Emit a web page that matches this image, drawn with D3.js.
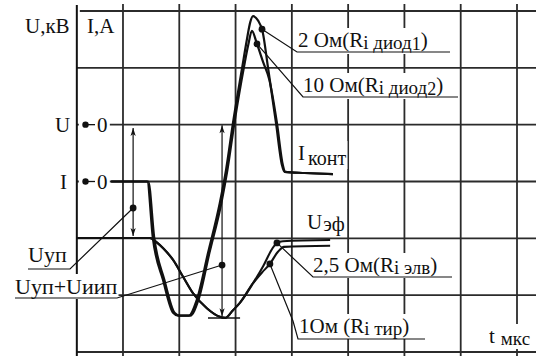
<!DOCTYPE html>
<html>
<head>
<meta charset="utf-8">
<script src="https://cdn.jsdelivr.net/npm/d3@7/dist/d3.min.js"></script>
<style>
body { margin: 0; background: #fff; }
svg { display: block; }
</style>
</head>
<body>
<div id="chart"></div>
<script>
var W = 536, H = 356;

// grid divisions: time (µs) and voltage divisions
var tGrid = [1, 2, 3, 4, 5, 6, 7, 8];
var uGrid = [2, 1, 0, -1, -2, -3, -4];
var axisT = 0.18;

// contact current, [t, I] (I in divisions)
var iDiode1 = [[0.79,0],[1.43,0],[1.53,-0.99],[1.71,-1.73],[1.89,-2.31],[1.98,-2.36],[2.17,-2.36],[2.31,-2.085],
	[2.51,-1.26],[2.72,-0.378],[2.83,0.2],[2.954,1.03],[3.12,2.02],[3.20,2.49],[3.26,2.8],[3.31,2.91],[3.36,2.88],
	[3.40,2.83],[3.48,2.64],[3.575,2.015],[3.718,1.03],[3.824,0.29],[3.87,0.17],[4.23,0.15],[4.73,0.13]];
var iDiode2 = [[0.79,0],[1.45,0],[1.555,-0.99],[1.735,-1.73],[1.915,-2.31],[2.0,-2.36],[2.195,-2.36],[2.34,-2.085],
	[2.535,-1.26],[2.748,-0.378],[2.855,0.2],[2.979,1.03],[3.15,2.02],[3.225,2.4],[3.29,2.65],[3.38,2.42],
	[3.49,2.1],[3.60,1.79],[3.735,1.03],[3.84,0.29],[3.88,0.17],[4.23,0.15],[4.73,0.13]];

// voltage, [t, U] (U in divisions)
var uCommon = [[0.18,-1.994],[1.48,-1.994],[1.60,-2.07],[1.71,-2.17],[1.89,-2.38],[2.07,-2.68],[2.24,-2.96],
	[2.49,-3.23],[2.72,-3.38],[2.82,-3.40],[2.95,-3.27],[3.08,-3.13],[3.31,-2.79]];
var uElv = [[3.49,-2.49],[3.66,-2.17],[3.735,-2.08],[3.84,-2.05],[4.68,-2.03]];
var uTir = [[3.47,-2.60],[3.61,-2.45],[3.75,-2.24],[3.86,-2.15],[4.68,-2.13]];

// marked points
var dotsI = [[3.47, 2.68], [3.38, 2.42]];
var dotsU = [[3.735, -2.08], [3.61, -2.45], [1.18, -1.466], [2.76, -2.47]];

// measuring arrows [t, Utop, Ubottom]
var arrows = [[1.18, -0.06, -1.96], [2.76, -0.01, -3.37]];
var uMin = [2.51, 3.08, -3.40];

var x = d3.scaleLinear().domain([0, 8]).range([66.7, 517]);
var yU = d3.scaleLinear().domain([-4, 2]).range([352, 11]);
var yI = d3.scaleLinear().domain([-3, 3]).range([352, 11]);

var ink = "#111";
var gridColor = "#2b2b2b";
var serif = "'Liberation Serif', 'DejaVu Serif', 'Times New Roman', serif";

var svg = d3.select("#chart").append("svg")
	.attr("width", W)
	.attr("height", H);

svg.append("rect").attr("width", W).attr("height", H).attr("fill", "#fff");

var gGrid = svg.append("g");
var gBg = svg.append("g");
var gLines = svg.append("g");
var gText = svg.append("g")
	.attr("font-family", serif)
	.attr("fill", ink)
	.style("white-space", "pre");

// grid
gGrid.selectAll("line.v")
	.data(tGrid)
	.enter()
	.append("line")
	.attr("x1", d => x(d))
	.attr("x2", d => x(d))
	.attr("y1", 4)
	.attr("y2", H)
	.attr("stroke", gridColor)
	.attr("stroke-width", 1.8);

gGrid.selectAll("line.h")
	.data(uGrid)
	.enter()
	.append("line")
	.attr("x1", (d, i) => i === 0 ? x(axisT) + 3 : x(axisT))
	.attr("x2", W)
	.attr("y1", d => yU(d))
	.attr("y2", d => yU(d))
	.attr("stroke", gridColor)
	.attr("stroke-width", 1.8);

gGrid.append("line")
	.attr("x1", x(axisT))
	.attr("x2", x(axisT))
	.attr("y1", 5)
	.attr("y2", H)
	.attr("stroke", ink)
	.attr("stroke-width", 2);

// curves
var lineI = d3.line().x(d => x(d[0])).y(d => yI(d[1])).curve(d3.curveMonotoneX);
var lineU = d3.line().x(d => x(d[0])).y(d => yU(d[1])).curve(d3.curveMonotoneX);

gLines.append("path").attr("d", lineU(uCommon.concat(uElv)))
	.attr("fill", "none").attr("stroke", ink).attr("stroke-width", 2.1);
gLines.append("path").attr("d", lineU(uCommon.concat(uTir)))
	.attr("fill", "none").attr("stroke", ink).attr("stroke-width", 2.1);
gLines.append("path").attr("d", lineI(iDiode1))
	.attr("fill", "none").attr("stroke", ink).attr("stroke-width", 2.2);
gLines.append("path").attr("d", lineI(iDiode2))
	.attr("fill", "none").attr("stroke", ink).attr("stroke-width", 2.2);

// arrows
function arrowHead(px, py, dir) {
	gLines.append("path")
		.attr("d", "M" + px + "," + py + " l-2.6," + (8 * dir) + " l2.6," + (-2 * dir) + " l2.6," + (2 * dir) + "z")
		.attr("fill", ink);
}
arrows.forEach(function(a) {
	gLines.append("line")
		.attr("x1", x(a[0])).attr("x2", x(a[0]))
		.attr("y1", yU(a[1])).attr("y2", yU(a[2]))
		.attr("stroke", ink).attr("stroke-width", 1.2);
	arrowHead(x(a[0]), yU(a[1]), 1);
	arrowHead(x(a[0]), yU(a[2]), -1);
});
gLines.append("line")
	.attr("x1", x(uMin[0])).attr("x2", x(uMin[1]))
	.attr("y1", yU(uMin[2])).attr("y2", yU(uMin[2]))
	.attr("stroke", ink).attr("stroke-width", 1.5);

// text helper: parts = [text, size, dy, dx]
function label(px, py, parts, bg) {
	var t = gText.append("text").attr("x", px).attr("y", py);
	parts.forEach(function(p) {
		t.append("tspan").attr("font-size", p[1] + "px").attr("dy", p[2]).attr("dx", p[3] || 0).text(p[0]);
	});
	if (bg) {
		var b = t.node().getBBox();
		gBg.append("rect")
			.attr("x", b.x - 1).attr("y", b.y)
			.attr("width", b.width + 2).attr("height", b.height)
			.attr("fill", "#fff");
	}
	return t;
}

// axis titles
label(25, 33, [["U,кВ", 21, 0]]);
label(87, 33, [["I,A", 21, 0]]);

// zero markers
[["U", yU(0)], ["I", yI(0)]].forEach(function(m, k) {
	var yy = m[1];
	gBg.append("rect").attr("x", x(axisT) + 2).attr("y", yy - 8).attr("width", 31).attr("height", 16).attr("fill", "#fff");
	label(k === 0 ? 55 : 60, yy + 7, [[m[0], 21, 0]]);
	gLines.append("circle").attr("cx", 85.5).attr("cy", yy).attr("r", 3.2).attr("fill", ink);
	gLines.append("line").attr("x1", 85).attr("x2", 95).attr("y1", yy).attr("y2", yy)
		.attr("stroke", ink).attr("stroke-width", 1.3);
	label(97, yy + 7, [["0", 21, 0]]);
});

// leader annotations
var notes = [
	{ dot: dotsI[0], s: yI, pts: [[297, 52]], end: 450, tx: 298, ty: 47,
		parts: [["2 Ом(R", 21, 0], ["i диод", 19, 2], ["1", 18, 1], [")", 21, -3]] },
	{ dot: dotsI[1], s: yI, pts: [[303, 97]], end: 458, tx: 303, ty: 92,
		parts: [["10 Ом(R", 21, 0], ["i диод", 19, 2], ["2", 18, 1], [")", 21, -3]] },
	{ dot: dotsU[0], s: yU, pts: [[313, 277]], end: 452, tx: 313, ty: 272,
		parts: [["2,5 Ом(R", 21, 0], ["i элв", 19, 2], [")", 21, -2]] },
	{ dot: dotsU[1], s: yU, pts: [[293, 321], [298, 339]], end: 425, tx: 299, ty: 333,
		parts: [["1Ом (R", 21, 0], ["i тир", 19, 2], [")", 21, -2]] },
	{ dot: dotsU[2], s: yU, pts: [[70, 269]], end: 28, tx: 28, ty: 262,
		parts: [["Uуп", 22, 0]] },
	{ dot: dotsU[3], s: yU, pts: [[117, 298]], end: 15, tx: 15, ty: 294,
		parts: [["Uуп+Uиип", 22, 0]] }
];

notes.forEach(function(n) {
	var p0 = [x(n.dot[0]), n.s(n.dot[1])];
	var pts = [p0].concat(n.pts);
	var last = n.pts[n.pts.length - 1];
	pts.push([n.end, last[1]]);
	gLines.append("path")
		.attr("d", d3.line()(pts))
		.attr("fill", "none").attr("stroke", ink).attr("stroke-width", 1.2);
	gLines.append("circle").attr("cx", p0[0]).attr("cy", p0[1]).attr("r", 3.4).attr("fill", ink);
	label(n.tx, n.ty, n.parts, true);
});

// curve names
label(298, 160, [["I", 21, 0], ["конт", 20, 5, 3]], true);
label(307, 229, [["U", 21, 0], ["эф", 20, 2, 1]], true);
label(489, 343, [["t", 21, 0], ["мкс", 19, 2, 6]], true);
</script>
</body>
</html>
